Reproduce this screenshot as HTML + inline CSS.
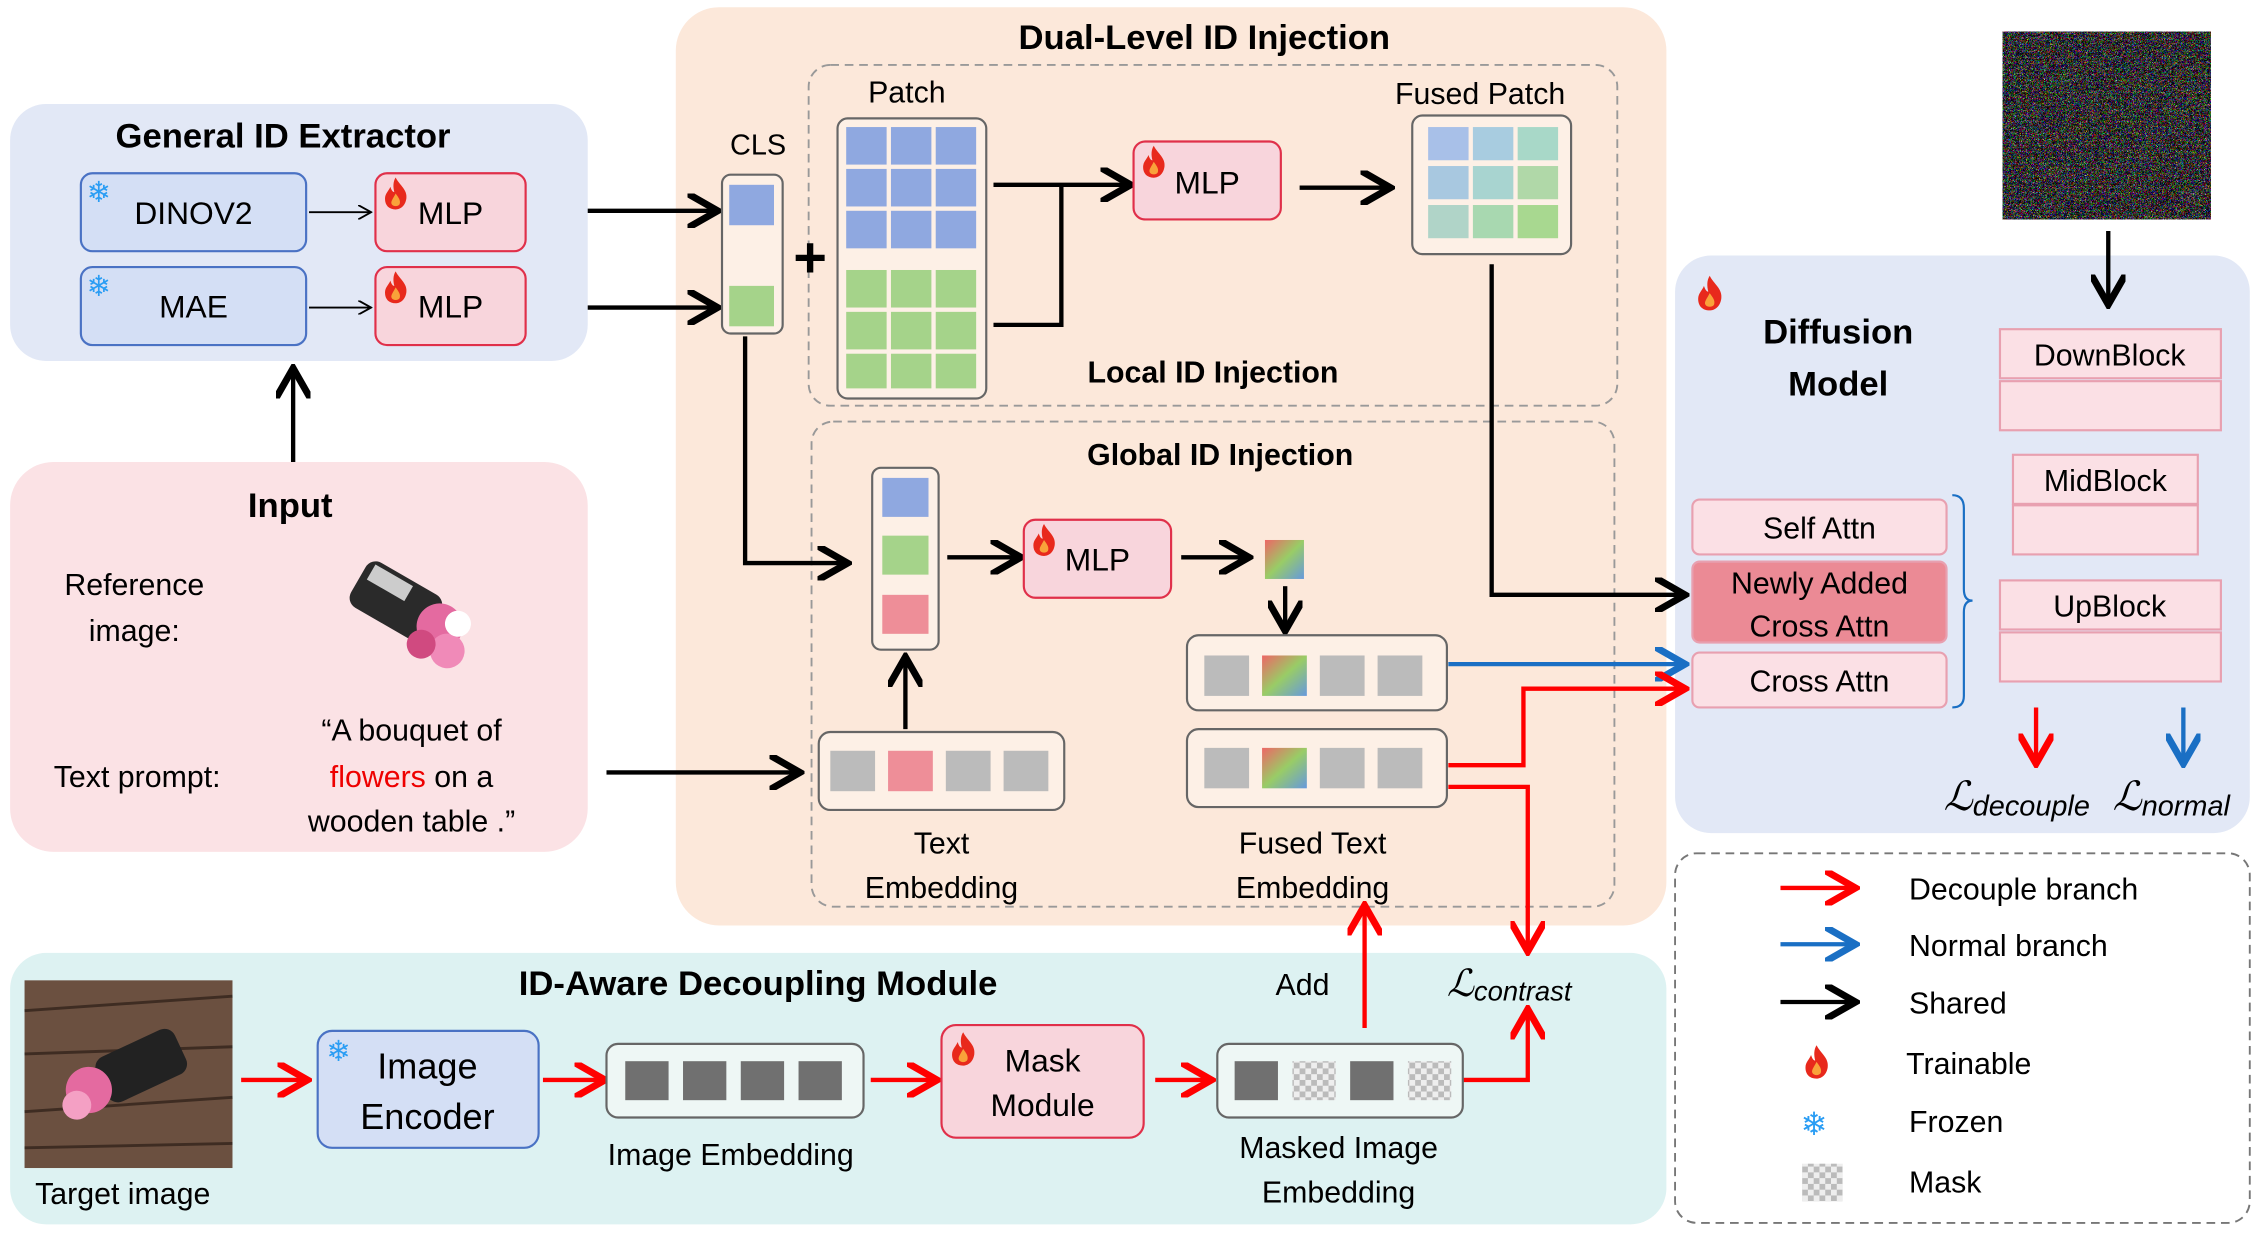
<!DOCTYPE html>
<html><head><meta charset="utf-8">
<style>
html,body{margin:0;padding:0;background:#fff;}
svg{display:block;}
text{font-family:"Liberation Sans",sans-serif;}
</style></head>
<body>
<svg width="2257" height="1233" viewBox="0 0 1563 854" preserveAspectRatio="none" xmlns="http://www.w3.org/2000/svg">
<defs>
<marker id="ak" markerWidth="8" markerHeight="8" refX="6" refY="4" orient="auto" markerUnits="strokeWidth"><path d="M0,0 L7,4 L0,8" fill="none" stroke="#000" stroke-width="1.6"/></marker>
<marker id="ar" markerWidth="8" markerHeight="8" refX="6" refY="4" orient="auto" markerUnits="strokeWidth"><path d="M0,0 L7,4 L0,8" fill="none" stroke="#f00" stroke-width="1.6"/></marker>
<marker id="ab" markerWidth="8" markerHeight="8" refX="6" refY="4" orient="auto" markerUnits="strokeWidth"><path d="M0,0 L7,4 L0,8" fill="none" stroke="#1a6fc4" stroke-width="1.6"/></marker>
<marker id="at" markerWidth="10" markerHeight="10" refX="8" refY="5" orient="auto" markerUnits="userSpaceOnUse"><path d="M0,0 L9,5 L0,10" fill="none" stroke="#000" stroke-width="1.3"/></marker>
<linearGradient id="gr" x1="0" y1="0" x2="1" y2="1"><stop offset="0" stop-color="#e66"/><stop offset=".5" stop-color="#9c6"/><stop offset="1" stop-color="#69d"/></linearGradient>
<filter id="nz" x="0" y="0" width="1" height="1"><feTurbulence type="turbulence" baseFrequency="1.2" numOctaves="1" seed="5" stitchTiles="stitch"/><feColorMatrix type="matrix" values="3 0 0 0 -0.6  0 3 0 0 -0.6  0 0 3 0 -0.6  0 0 0 0 1"/></filter>
<pattern id="ck" width="8" height="8" patternUnits="userSpaceOnUse"><rect width="8" height="8" fill="#eee"/><rect width="4" height="4" fill="#bbb"/><rect x="4" y="4" width="4" height="4" fill="#bbb"/></pattern>
<symbol id="fire" viewBox="0 0 20 26"><path d="M10,1 C13,7 19,10 18,17 C17,23 13,25 10,25 C5,25 2,22 2,17 C2,13 5,11 6,8 C7,11 8,12 9,12 C8,8 8,4 10,1Z" fill="#e8291c"/><path d="M10,13 C12,16 14,18 13,21 C12,23 8,23 7,21 C6,19 8,17 10,13Z" fill="#f9a23a"/></symbol>
</defs>

<rect x="7" y="72" width="400" height="178" rx="25" fill="#e2e8f6"/>
<rect x="7" y="320" width="400" height="270" rx="30" fill="#fbe2e5"/>
<rect x="468" y="5" width="686" height="636" rx="30" fill="#fce8da"/>
<rect x="1160" y="177" width="398" height="400" rx="25" fill="#e2e8f6"/>
<rect x="7" y="660" width="1147" height="188" rx="25" fill="#ddf2f2"/>
<rect x="560" y="45" width="560" height="236" rx="15" fill="none" stroke="#999" stroke-width="1.3" stroke-dasharray="6,4"/>
<rect x="562" y="292" width="556" height="336" rx="15" fill="none" stroke="#999" stroke-width="1.3" stroke-dasharray="6,4"/>
<rect x="1160" y="591" width="398" height="256" rx="15" fill="none" stroke="#777" stroke-width="1.3" stroke-dasharray="6,4"/>

<g font-weight="bold" font-size="24" text-anchor="middle">
<text x="196" y="102">General ID Extractor</text>
<text x="201" y="358">Input</text>
<text x="834" y="34">Dual-Level ID Injection</text>
<text x="525" y="689">ID-Aware Decoupling Module</text>
<text x="1273" y="238">Diffusion</text>
<text x="1273" y="274">Model</text>
<text x="840" y="265" font-size="21">Local ID  Injection</text>
<text x="845" y="322" font-size="21">Global ID  Injection</text>
</g>

<rect x="56" y="120" width="156" height="54" rx="8" fill="#d4dff5" stroke="#4a72c4" stroke-width="1.5"/>
<rect x="56" y="185" width="156" height="54" rx="8" fill="#d4dff5" stroke="#4a72c4" stroke-width="1.5"/>
<rect x="260" y="120" width="104" height="54" rx="8" fill="#f8d5dc" stroke="#e0304a" stroke-width="1.5"/>
<rect x="260" y="185" width="104" height="54" rx="8" fill="#f8d5dc" stroke="#e0304a" stroke-width="1.5"/>
<g font-size="22" text-anchor="middle">
<text x="134" y="155">DINOV2</text><text x="134" y="220">MAE</text>
<text x="312" y="155">MLP</text><text x="312" y="220">MLP</text>
</g>
<text x="60" y="140" font-size="20" fill="#2a9df4">❄</text>
<text x="60" y="205" font-size="20" fill="#2a9df4">❄</text>
<use href="#fire" x="264" y="122" width="20" height="24"/>
<use href="#fire" x="264" y="187" width="20" height="24"/>
<line x1="214" y1="147" x2="256" y2="147" stroke="#000" stroke-width="1.3" marker-end="url(#at)"/>
<line x1="214" y1="213" x2="256" y2="213" stroke="#000" stroke-width="1.3" marker-end="url(#at)"/>
<line x1="203" y1="320" x2="203" y2="258" stroke="#000" stroke-width="3" marker-end="url(#ak)"/>
<line x1="407" y1="146" x2="494" y2="146" stroke="#000" stroke-width="3" marker-end="url(#ak)"/>
<line x1="407" y1="213" x2="494" y2="213" stroke="#000" stroke-width="3" marker-end="url(#ak)"/>

<g font-size="21" text-anchor="middle">
<text x="93" y="412">Reference</text><text x="93" y="444">image:</text>
<text x="95" y="545">Text prompt:</text>
<text x="285" y="513">“A bouquet of</text>
<text x="285" y="545"><tspan fill="#e00">flowers</tspan>  on a</text>
<text x="285" y="576">wooden table .”</text>
</g>
<g transform="rotate(30 275 425)">
<rect x="240" y="400" width="60" height="36" rx="8" fill="#2a2a2a"/>
<rect x="245" y="403" width="30" height="12" fill="#ccc"/>
<circle cx="305" cy="418" r="16" fill="#e46aa0"/><circle cx="318" cy="430" r="12" fill="#f08ab8"/><circle cx="300" cy="435" r="10" fill="#d04a80"/><circle cx="315" cy="410" r="9" fill="#fff"/>
</g>
<line x1="420" y1="535" x2="551" y2="535" stroke="#000" stroke-width="3" marker-end="url(#ak)"/>

<text x="628" y="71" font-size="21" text-anchor="middle">Patch</text>
<text x="1025" y="72" font-size="21" text-anchor="middle">Fused Patch</text>
<text x="525" y="107" font-size="20" text-anchor="middle">CLS</text>
<rect x="500" y="121" width="42" height="110" rx="6" fill="#fdf0e6" stroke="#666" stroke-width="1.5"/>
<rect x="505" y="128" width="31" height="28" fill="#8fa8e0"/>
<rect x="505" y="198" width="31" height="28" fill="#a5d38a"/>
<text x="561" y="192" font-size="40" text-anchor="middle" font-weight="bold">+</text>
<rect x="580" y="82" width="103" height="194" rx="7" fill="#fdf0e6" stroke="#666" stroke-width="1.5"/>
<g fill="#8fa8e0">
<rect x="586" y="88" width="28" height="26"/><rect x="617" y="88" width="28" height="26"/><rect x="648" y="88" width="28" height="26"/>
<rect x="586" y="117" width="28" height="26"/><rect x="617" y="117" width="28" height="26"/><rect x="648" y="117" width="28" height="26"/>
<rect x="586" y="146" width="28" height="26"/><rect x="617" y="146" width="28" height="26"/><rect x="648" y="146" width="28" height="26"/>
</g>
<g fill="#a5d38a">
<rect x="586" y="187" width="28" height="26"/><rect x="617" y="187" width="28" height="26"/><rect x="648" y="187" width="28" height="26"/>
<rect x="586" y="216" width="28" height="26"/><rect x="617" y="216" width="28" height="26"/><rect x="648" y="216" width="28" height="26"/>
<rect x="586" y="245" width="28" height="24"/><rect x="617" y="245" width="28" height="24"/><rect x="648" y="245" width="28" height="24"/>
</g>
<line x1="688" y1="128" x2="780" y2="128" stroke="#000" stroke-width="3" marker-end="url(#ak)"/>
<polyline points="688,225 735,225 735,128" fill="none" stroke="#000" stroke-width="3"/>
<rect x="785" y="98" width="102" height="54" rx="8" fill="#f8d5dc" stroke="#e0304a" stroke-width="1.5"/>
<text x="836" y="134" font-size="22" text-anchor="middle">MLP</text>
<use href="#fire" x="789" y="100" width="20" height="24"/>
<line x1="900" y1="130" x2="960" y2="130" stroke="#000" stroke-width="3" marker-end="url(#ak)"/>
<rect x="978" y="80" width="110" height="96" rx="7" fill="#fdf0e6" stroke="#666" stroke-width="1.5"/>
<g>
<rect x="989" y="88" width="28" height="23" fill="#a8c0e8"/><rect x="1020" y="88" width="28" height="23" fill="#a8cce0"/><rect x="1051" y="88" width="28" height="23" fill="#a8d8c8"/>
<rect x="989" y="115" width="28" height="23" fill="#a8c8e0"/><rect x="1020" y="115" width="28" height="23" fill="#a8d4d0"/><rect x="1051" y="115" width="28" height="23" fill="#b0d8a8"/>
<rect x="989" y="142" width="28" height="23" fill="#b0d4c8"/><rect x="1020" y="142" width="28" height="23" fill="#a8d8b0"/><rect x="1051" y="142" width="28" height="23" fill="#a8d890"/>
</g>
<polyline points="1033,183 1033,412 1164,412" fill="none" stroke="#000" stroke-width="3" marker-end="url(#ak)"/>

<polyline points="516,233 516,390 584,390" fill="none" stroke="#000" stroke-width="3" marker-end="url(#ak)"/>
<rect x="604" y="324" width="46" height="126" rx="6" fill="#fdf0e6" stroke="#666" stroke-width="1.5"/>
<rect x="611" y="331" width="32" height="27" fill="#8fa8e0"/>
<rect x="611" y="371" width="32" height="27" fill="#a5d38a"/>
<rect x="611" y="412" width="32" height="27" fill="#ee8e98"/>
<line x1="656" y1="386" x2="704" y2="386" stroke="#000" stroke-width="3" marker-end="url(#ak)"/>
<rect x="709" y="360" width="102" height="54" rx="8" fill="#f8d5dc" stroke="#e0304a" stroke-width="1.5"/>
<text x="760" y="395" font-size="22" text-anchor="middle">MLP</text>
<use href="#fire" x="713" y="362" width="20" height="24"/>
<line x1="818" y1="386" x2="862" y2="386" stroke="#000" stroke-width="3" marker-end="url(#ak)"/>
<rect x="876" y="374" width="27" height="27" fill="url(#gr)"/>
<line x1="890" y1="406" x2="890" y2="434" stroke="#000" stroke-width="3" marker-end="url(#ak)"/>
<rect x="822" y="440" width="180" height="52" rx="8" fill="#fdf0e6" stroke="#666" stroke-width="1.5"/>
<rect x="834" y="454" width="31" height="28" fill="#bbb"/><rect x="874" y="454" width="31" height="28" fill="url(#gr)"/><rect x="914" y="454" width="31" height="28" fill="#bbb"/><rect x="954" y="454" width="31" height="28" fill="#bbb"/>
<rect x="822" y="505" width="180" height="54" rx="8" fill="#fdf0e6" stroke="#666" stroke-width="1.5"/>
<rect x="834" y="518" width="31" height="28" fill="#bbb"/><rect x="874" y="518" width="31" height="28" fill="url(#gr)"/><rect x="914" y="518" width="31" height="28" fill="#bbb"/><rect x="954" y="518" width="31" height="28" fill="#bbb"/>
<rect x="567" y="507" width="170" height="54" rx="8" fill="#fdf0e6" stroke="#666" stroke-width="1.5"/>
<rect x="575" y="520" width="31" height="28" fill="#bbb"/><rect x="615" y="520" width="31" height="28" fill="#ee8e98"/><rect x="655" y="520" width="31" height="28" fill="#bbb"/><rect x="695" y="520" width="31" height="28" fill="#bbb"/>
<line x1="627" y1="505" x2="627" y2="458" stroke="#000" stroke-width="3" marker-end="url(#ak)"/>
<g font-size="21" text-anchor="middle">
<text x="652" y="591">Text</text><text x="652" y="622">Embedding</text>
<text x="909" y="591">Fused Text</text><text x="909" y="622">Embedding</text>
</g>

<line x1="1003" y1="460" x2="1164" y2="460" stroke="#1a6fc4" stroke-width="3" marker-end="url(#ab)"/>
<polyline points="1003,530 1055,530 1055,477 1164,477" fill="none" stroke="#f00" stroke-width="3" marker-end="url(#ar)"/>
<polyline points="1003,545 1058,545 1058,656" fill="none" stroke="#f00" stroke-width="3" marker-end="url(#ar)"/>
<polyline points="1013,748 1058,748 1058,702" fill="none" stroke="#f00" stroke-width="3" marker-end="url(#ar)"/>
<line x1="945" y1="712" x2="945" y2="630" stroke="#f00" stroke-width="3" marker-end="url(#ar)"/>
<text x="902" y="689" font-size="21" text-anchor="middle">Add</text>
<text x="1002" y="690" font-size="26" font-family="Liberation Serif" font-style="italic">ℒ<tspan font-size="19" dy="3">contrast</tspan></text>

<rect x="1387" y="22" width="144" height="130" fill="#333"/>
<rect x="1387" y="22" width="144" height="130" filter="url(#nz)" opacity="0.85"/>
<line x1="1460" y1="160" x2="1460" y2="208" stroke="#000" stroke-width="3" marker-end="url(#ak)"/>
<use href="#fire" x="1174" y="190" width="20" height="26"/>
<g fill="#fbe0e5" stroke="#e8a0b0" stroke-width="1.5">
<rect x="1385" y="228" width="153" height="34"/><rect x="1385" y="264" width="153" height="34"/>
<rect x="1394" y="315" width="128" height="34"/><rect x="1394" y="350" width="128" height="34"/>
<rect x="1385" y="402" width="153" height="34"/><rect x="1385" y="438" width="153" height="34"/>
<rect x="1172" y="346" width="176" height="38" rx="5"/>
<rect x="1172" y="452" width="176" height="38" rx="5"/>
</g>
<rect x="1172" y="389" width="176" height="56" rx="5" fill="#eb8a95" stroke="#e8a0b0" stroke-width="1.5"/>
<g font-size="21" text-anchor="middle">
<text x="1461" y="253">DownBlock</text><text x="1458" y="340">MidBlock</text><text x="1461" y="427">UpBlock</text>
<text x="1260" y="373">Self Attn</text><text x="1260" y="411">Newly Added</text><text x="1260" y="441">Cross Attn</text><text x="1260" y="479">Cross Attn</text>
</g>
<path d="M1352,343 Q1360,343 1360,352 L1360,408 Q1360,416 1366,416 Q1360,416 1360,424 L1360,482 Q1360,490 1352,490" fill="none" stroke="#1a6fc4" stroke-width="1.5"/>
<line x1="1410" y1="490" x2="1410" y2="526" stroke="#f00" stroke-width="3" marker-end="url(#ar)"/>
<line x1="1512" y1="490" x2="1512" y2="526" stroke="#1a6fc4" stroke-width="3" marker-end="url(#ab)"/>
<text x="1346" y="561" font-size="28" font-family="Liberation Serif" font-style="italic">ℒ<tspan font-size="20" dy="4">decouple</tspan></text>
<text x="1463" y="561" font-size="28" font-family="Liberation Serif" font-style="italic">ℒ<tspan font-size="20" dy="4">normal</tspan></text>

<line x1="1233" y1="615" x2="1282" y2="615" stroke="#f00" stroke-width="3" marker-end="url(#ar)"/>
<line x1="1233" y1="654" x2="1282" y2="654" stroke="#1a6fc4" stroke-width="3" marker-end="url(#ab)"/>
<line x1="1233" y1="694" x2="1282" y2="694" stroke="#000" stroke-width="3" marker-end="url(#ak)"/>
<use href="#fire" x="1248" y="723" width="20" height="25"/>
<text x="1247" y="786" font-size="22" fill="#2a9df4">❄</text>
<rect x="1248" y="806" width="28" height="26" fill="url(#ck)"/>
<g font-size="21">
<text x="1322" y="623">Decouple branch</text><text x="1322" y="662">Normal branch</text><text x="1322" y="702">Shared</text>
<text x="1320" y="744">Trainable</text><text x="1322" y="784">Frozen</text><text x="1322" y="826">Mask</text>
</g>

<rect x="17" y="679" width="144" height="130" fill="#6b5040"/>
<g stroke="#3e2c22" stroke-width="2"><line x1="17" y1="700" x2="161" y2="690"/><line x1="17" y1="730" x2="161" y2="725"/><line x1="17" y1="770" x2="161" y2="760"/><line x1="17" y1="795" x2="161" y2="792"/></g>
<g transform="rotate(-25 90 745)"><rect x="70" y="725" width="60" height="34" rx="8" fill="#222"/><circle cx="60" cy="742" r="16" fill="#e46aa0"/><circle cx="48" cy="748" r="10" fill="#f4a0c4"/></g>
<text x="85" y="834" font-size="21" text-anchor="middle">Target image</text>
<line x1="167" y1="748" x2="210" y2="748" stroke="#f00" stroke-width="3" marker-end="url(#ar)"/>
<rect x="220" y="714" width="153" height="81" rx="10" fill="#d4dff5" stroke="#4a72c4" stroke-width="1.5"/>
<text x="226" y="735" font-size="20" fill="#2a9df4">❄</text>
<text x="296" y="747" font-size="25" text-anchor="middle">Image</text>
<text x="296" y="782" font-size="25" text-anchor="middle">Encoder</text>
<line x1="376" y1="748" x2="416" y2="748" stroke="#f00" stroke-width="3" marker-end="url(#ar)"/>
<rect x="420" y="723" width="178" height="51" rx="8" fill="#eef7f5" stroke="#666" stroke-width="1.5"/>
<rect x="433" y="735" width="30" height="27" fill="#707070"/><rect x="473" y="735" width="30" height="27" fill="#707070"/><rect x="513" y="735" width="30" height="27" fill="#707070"/><rect x="553" y="735" width="30" height="27" fill="#707070"/>
<text x="506" y="807" font-size="21" text-anchor="middle">Image Embedding</text>
<line x1="603" y1="748" x2="646" y2="748" stroke="#f00" stroke-width="3" marker-end="url(#ar)"/>
<rect x="652" y="710" width="140" height="78" rx="10" fill="#f8d5dc" stroke="#e0304a" stroke-width="1.5"/>
<use href="#fire" x="657" y="714" width="20" height="25"/>
<text x="722" y="742" font-size="22" text-anchor="middle">Mask</text>
<text x="722" y="773" font-size="22" text-anchor="middle">Module</text>
<line x1="800" y1="748" x2="836" y2="748" stroke="#f00" stroke-width="3" marker-end="url(#ar)"/>
<rect x="843" y="723" width="170" height="51" rx="8" fill="#eef7f5" stroke="#666" stroke-width="1.5"/>
<rect x="855" y="735" width="30" height="27" fill="#707070"/><rect x="895" y="735" width="30" height="27" fill="url(#ck)"/><rect x="935" y="735" width="30" height="27" fill="#707070"/><rect x="975" y="735" width="30" height="27" fill="url(#ck)"/>
<text x="927" y="802" font-size="21" text-anchor="middle">Masked Image</text>
<text x="927" y="833" font-size="21" text-anchor="middle">Embedding</text>
</svg>
</body></html>
